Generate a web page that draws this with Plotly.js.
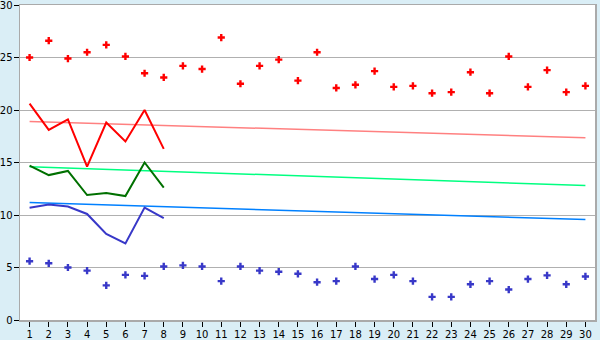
<!DOCTYPE html>
<html>
<head>
<meta charset="utf-8">
<script src="https://cdn.plot.ly/plotly-3.0.1.min.js"></script>
<style>html,body{margin:0;padding:0;background:#daeef6;}#chart{width:600px;height:340px;}</style>
</head>
<body>
<div id="chart"></div>
<script>
const days = [1,2,3,4,5,6,7,8,9,10,11,12,13,14,15,16,17,18,19,20,21,22,23,24,25,26,27,28,29,30];
const highPoints = [25.0,26.6,24.9,25.5,26.2,25.1,23.5,23.1,24.2,23.9,26.9,22.5,24.2,24.8,22.8,25.5,22.1,22.4,23.7,22.2,22.3,21.6,21.7,23.6,21.6,25.1,22.2,23.8,21.7,22.3];
const lowPoints = [5.6,5.4,5.0,4.7,3.3,4.3,4.2,5.1,5.2,5.1,3.7,5.1,4.7,4.6,4.4,3.6,3.7,5.1,3.9,4.3,3.7,2.2,2.2,3.4,3.7,2.9,3.9,4.25,3.4,4.15];
const lineDays = [1,2,3,4,5,6,7,8];
const redLine = [20.6,18.1,19.1,14.6,18.8,17.0,20.0,16.3];
const greenLine = [14.7,13.8,14.2,11.9,12.1,11.8,15.0,12.6];
const blueLine = [10.7,11.0,10.8,10.1,8.2,7.3,10.7,9.7];
const trendDays = [1,30];
const redTrend = [18.9,17.35];
const greenTrend = [14.6,12.8];
const blueTrend = [11.18,9.57];
const yTicks = [0,5,10,15,20,25,30];

const traces = [
  {x: trendDays, y: redTrend, mode:'lines', line:{color:'#ff8080', width:1.5}},
  {x: trendDays, y: greenTrend, mode:'lines', line:{color:'#00ff80', width:1.5}},
  {x: trendDays, y: blueTrend, mode:'lines', line:{color:'#0080ff', width:1.5}},
  {x: lineDays, y: redLine, mode:'lines', line:{color:'#ff0000', width:2}},
  {x: lineDays, y: greenLine, mode:'lines', line:{color:'#007000', width:2}},
  {x: lineDays, y: blueLine, mode:'lines', line:{color:'#3838c8', width:2}},
  {x: days, y: highPoints, mode:'markers', marker:{symbol:'cross', size:6, color:'#ff0000'}},
  {x: days, y: lowPoints, mode:'markers', marker:{symbol:'cross', size:6, color:'#3838c8'}}
];
const layout = {
  width:600, height:340,
  margin:{l:20, r:5, t:5, b:20},
  paper_bgcolor:'#daeef6', plot_bgcolor:'#ffffff',
  showlegend:false,
  font:{family:'DejaVu Sans, Verdana, sans-serif', size:10, color:'#000'},
  xaxis:{range:[0.5,30.5], tickvals:days, ticks:'outside', ticklen:5, tickcolor:'#000', showgrid:false, zeroline:false,
         showline:true, linecolor:'#aaaaaa', linewidth:1.5, mirror:true, tickfont:{size:10}, ticklabelstandoff:-1,
         ticklabeloverflow:'allow'},
  yaxis:{range:[0,30], tickvals:yTicks, ticks:'outside', ticklen:5, tickcolor:'#000', showgrid:true, gridcolor:'#b0b0b0', gridwidth:1,
         zeroline:false, showline:true, linecolor:'#aaaaaa', linewidth:1.5, mirror:true, tickfont:{size:10}, ticklabelstandoff:-1,
         ticklabeloverflow:'allow'}
};
Plotly.newPlot('chart', traces, layout, {staticPlot:true, displayModeBar:false});
</script>
</body>
</html>
